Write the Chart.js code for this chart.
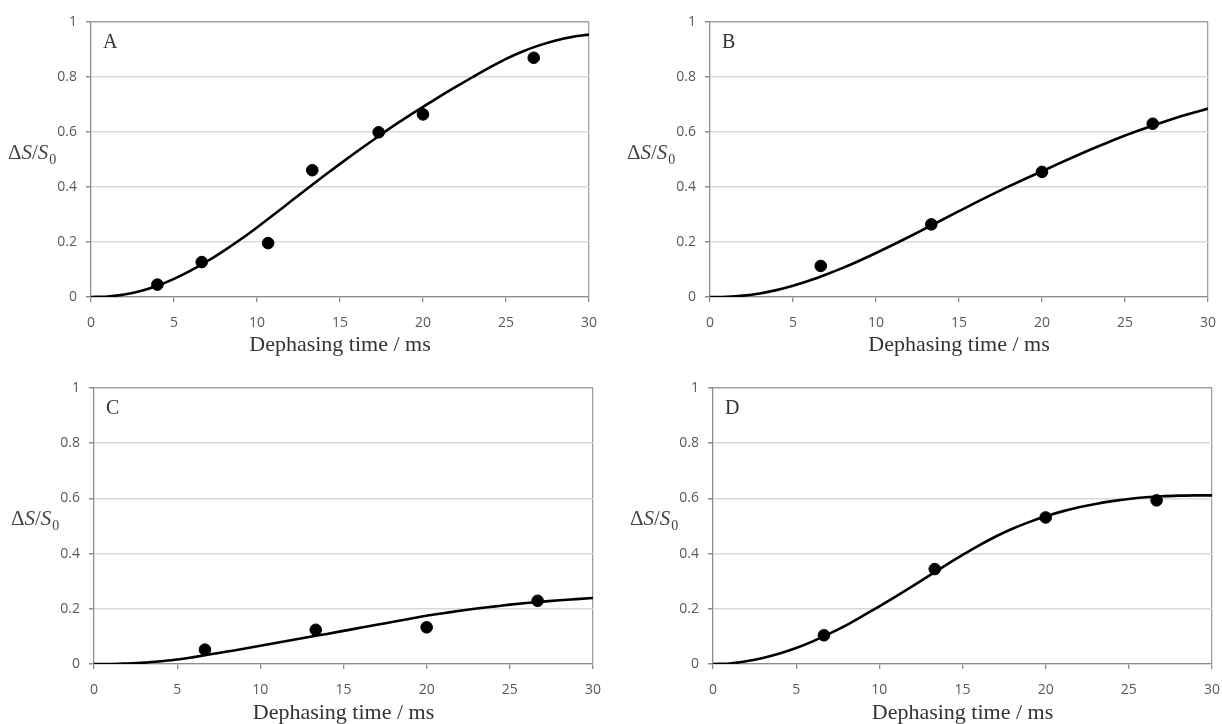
<!DOCTYPE html>
<html>
<head>
<meta charset="utf-8">
<script src="https://cdn.jsdelivr.net/npm/chart.js@4.4.1/dist/chart.umd.min.js"></script>
<style>
  body { margin: 0; background: #fff; }
  #wrap { position: relative; width: 1222px; height: 724px; }
  canvas { position: absolute; }
</style>
</head>
<body>
<div id="wrap">
  <canvas id="panel-a" width="611" height="362" style="left:0;top:0"></canvas>
  <canvas id="panel-b" width="611" height="362" style="left:611px;top:0"></canvas>
  <canvas id="panel-c" width="611" height="362" style="left:0;top:362px"></canvas>
  <canvas id="panel-d" width="611" height="362" style="left:611px;top:362px"></canvas>
</div>
<script>
// measured points (dephasing time in ms, dS/S0)
var timesA = [4, 6.67, 10.67, 13.33, 17.33, 20, 26.67];
var valuesA = [0.045, 0.127, 0.196, 0.461, 0.599, 0.664, 0.870];

var timesBCD = [6.67, 13.33, 20, 26.67];
var valuesB = [0.113, 0.264, 0.455, 0.630];
var valuesC = [0.052, 0.124, 0.133, 0.229];
var valuesD = [0.104, 0.344, 0.531, 0.593];

// simulated curves
var fitTimes = [0, 1, 2, 3, 4, 5, 6, 7, 8, 9, 10, 11, 12, 13, 14, 15, 16, 17, 18, 19, 20, 21, 22, 23, 24, 25, 26, 27, 28, 29, 30];
var fitA = [0, 0.002, 0.009, 0.022, 0.041, 0.066, 0.096, 0.130, 0.168, 0.209, 0.253, 0.299, 0.346, 0.393, 0.439, 0.484, 0.528, 0.571, 0.613, 0.653, 0.691, 0.729, 0.765, 0.800, 0.834, 0.866, 0.893, 0.915, 0.933, 0.946, 0.954];
var fitB = [0, 0.001, 0.005, 0.013, 0.025, 0.041, 0.060, 0.082, 0.106, 0.132, 0.160, 0.189, 0.219, 0.250, 0.281, 0.312, 0.343, 0.373, 0.402, 0.430, 0.457, 0.485, 0.512, 0.538, 0.563, 0.587, 0.609, 0.630, 0.650, 0.668, 0.685];
var fitC = [0, 0, 0.002, 0.005, 0.01, 0.016, 0.025, 0.035, 0.045, 0.055, 0.066, 0.077, 0.088, 0.099, 0.109, 0.12, 0.131, 0.142, 0.153, 0.164, 0.175, 0.184, 0.193, 0.201, 0.208, 0.215, 0.221, 0.226, 0.231, 0.235, 0.239];
var fitD = [0, 0.002, 0.01, 0.022, 0.038, 0.058, 0.082, 0.11, 0.14, 0.174, 0.209, 0.245, 0.282, 0.32, 0.358, 0.395, 0.430, 0.462, 0.490, 0.514, 0.535, 0.553, 0.568, 0.580, 0.590, 0.598, 0.604, 0.608, 0.610, 0.611, 0.611];

var xTitle = 'Dephasing time / ms';
var serif = '"Liberation Serif", "DejaVu Serif", serif';

// panel letter and the dS/S0 label (needs italic + subscript, so drawn by hand)
var panelText = {
  id: 'panelText',
  afterDraw: function(chart, args, opts) {
    var ctx = chart.ctx, area = chart.chartArea;
    ctx.save();
    ctx.fillStyle = '#333';
    ctx.font = '20px ' + serif;
    ctx.textBaseline = 'middle';
    ctx.fillText(opts.letter, area.left + 12, area.top + 21);

    ctx.textBaseline = 'alphabetic';
    ctx.fillStyle = '#444';
    var x = area.left - 83;
    var base = chart.scales.y.getPixelForValue(0.5) - 1;
    var parts = [['\u0394', ''], ['S', 'italic '], ['/', ''], ['S', 'italic ']];
    parts.forEach(function(p) {
      ctx.font = p[1] + '21px ' + serif;
      ctx.fillText(p[0], x, base);
      x += ctx.measureText(p[0]).width;
    });
    ctx.font = '14px ' + serif;
    ctx.fillText('0', x + 1, base + 5);
    ctx.restore();
  }
};

function makePanel(id, letter, times, values, fit, box) {
  var W = 611, H = 362;
  var ctx = document.getElementById(id).getContext('2d');
  return new Chart(ctx, {
    type: 'scatter',
    data: {
      datasets: [{
        data: times.map(function(t, i) { return {x: t, y: values[i]}; }),
        backgroundColor: '#000',
        borderColor: '#000',
        pointRadius: 5.8,
        pointHoverRadius: 5.8
      }, {
        data: fitTimes.map(function(t, i) { return {x: t, y: fit[i]}; }),
        showLine: true,
        borderColor: '#000',
        borderWidth: 2.6,
        pointRadius: 0,
        cubicInterpolationMode: 'monotone',
        fill: false
      }]
    },
    options: {
      responsive: false,
      animation: false,
      layout: { padding: { left: 0, top: box.top, right: W - box.right, bottom: 0 } },
      plugins: {
        legend: { display: false },
        tooltip: { enabled: false },
        panelText: { letter: letter }
      },
      scales: {
        x: {
          type: 'linear', min: 0, max: 30,
          afterFit: function(s) {
            s.height = H - box.bottom;
            // keep the plot box where it is, the "30" label may hang over
            s.paddingLeft = 0;
            s.paddingRight = 0;
          },
          ticks: { stepSize: 5, color: '#595959', padding: 13, font: { family: '"Open Sans"', size: 14 } },
          grid: {
            color: function(c) { return c.tick && c.tick.value === 30 ? '#a0a0a0' : 'rgba(0,0,0,0)'; },
            tickColor: '#8c8c8c', tickLength: 5, lineWidth: 1.3
          },
          border: { color: '#8c8c8c', width: 1.3 },
          title: {
            display: true, text: xTitle, color: '#333',
            font: { family: serif, size: 22, lineHeight: 1 },
            padding: { top: 0, bottom: box.titlePad }
          }
        },
        y: {
          min: 0, max: 1,
          afterFit: function(s) { s.width = box.left; },
          ticks: {
            stepSize: 0.2, color: '#595959', padding: 9, font: { family: '"Open Sans"', size: 14 },
            callback: function(v) { return String(Math.round(v * 10) / 10); }
          },
          grid: {
            color: function(c) { return c.tick && c.tick.value === 1 ? '#a0a0a0' : '#d9d9d9'; },
            tickColor: '#8c8c8c', tickLength: 5, lineWidth: 1.5
          },
          border: { color: '#8c8c8c', width: 1.3 }
        }
      }
    },
    plugins: [panelText]
  });
}

makePanel('panel-a', 'A', timesA, valuesA, fitA, {left: 91, top: 22, right: 589, bottom: 297, titlePad: 6});
makePanel('panel-b', 'B', timesBCD, valuesB, fitB, {left: 99, top: 22, right: 597, bottom: 297, titlePad: 6});
makePanel('panel-c', 'C', timesBCD, valuesC, fitC, {left: 94, top: 26, right: 593, bottom: 302, titlePad: 0});
makePanel('panel-d', 'D', timesBCD, valuesD, fitD, {left: 102, top: 26, right: 601, bottom: 302, titlePad: 0});
</script>
</body>
</html>
